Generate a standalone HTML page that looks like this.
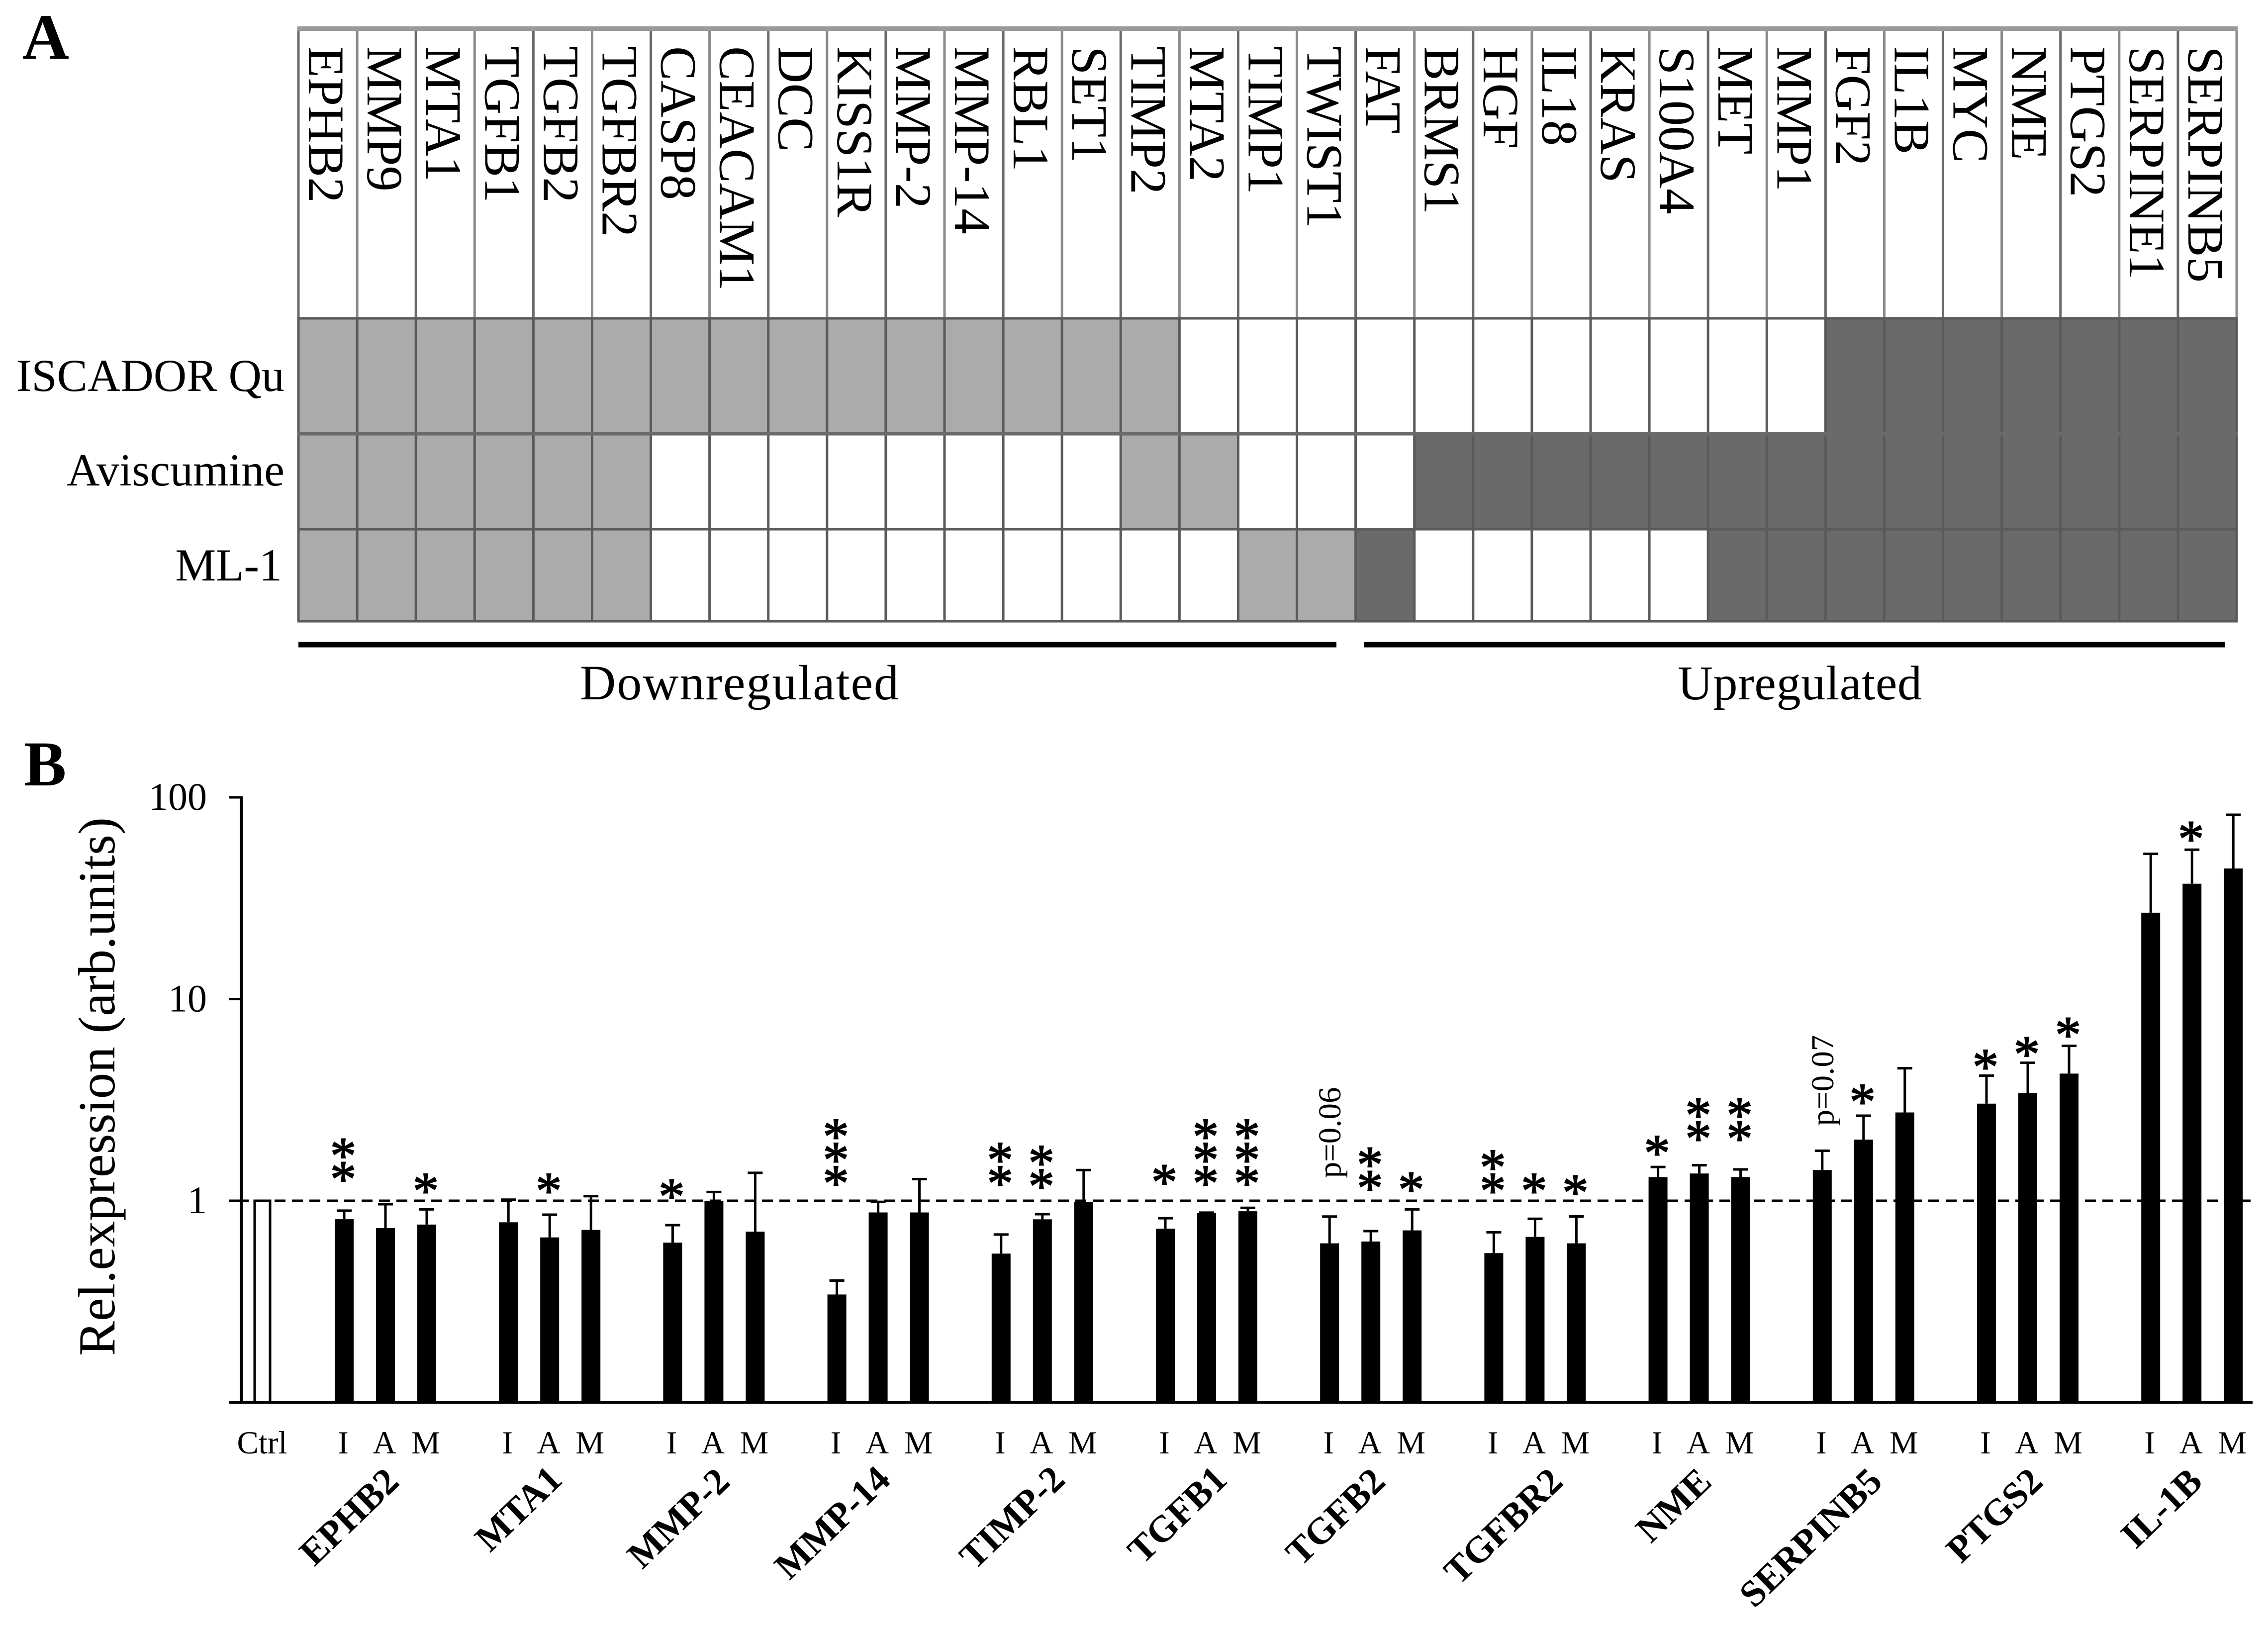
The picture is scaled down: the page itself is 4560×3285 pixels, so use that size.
<!DOCTYPE html>
<html lang="en">
<head>
<meta charset="utf-8">
<title>Gene expression figure</title>
<style>
html,body{margin:0;padding:0;background:#fff}
svg{display:block}
text{font-family:"Liberation Serif",serif;fill:#000}
</style>
</head>
<body>
<svg id="figure" xmlns="http://www.w3.org/2000/svg" width="4560" height="3285" viewBox="0 0 4560 3285">
<rect x="0" y="0" width="4560" height="3285" fill="#fff"/>
<text x="45" y="118" font-size="130" font-weight="bold">A</text>
<text x="48" y="1579" font-size="128" font-weight="bold">B</text>
<g id="heatmap"></g>
<line x1="600" y1="1296" x2="2687" y2="1296" stroke="#000" stroke-width="11"/>
<line x1="2743" y1="1296" x2="4473" y2="1296" stroke="#000" stroke-width="11"/>
<text x="1166" y="1406" font-size="100" textLength="641" lengthAdjust="spacing">Downregulated</text>
<text x="3373" y="1406" font-size="98" textLength="491" lengthAdjust="spacing">Upregulated</text>
<g id="chart"></g>
<g font-size="75" font-weight="bold" text-anchor="end">
<text transform="translate(806 2983) rotate(-44)">EPHB2</text>
<text transform="translate(1134 2979) rotate(-44)">MTA1</text>
<text transform="translate(1471 2983) rotate(-44)">MMP-2</text>
<text transform="translate(1794 2979) rotate(-44)">MMP-14</text>
<text transform="translate(2145 2979) rotate(-44)">TIMP-2</text>
<text transform="translate(2471 2979) rotate(-44)">TGFB1</text>
<text transform="translate(2789 2983) rotate(-44)">TGFB2</text>
<text transform="translate(3146 2983) rotate(-44)">TGFBR2</text>
<text transform="translate(3445 2983) rotate(-44)">NME</text>
<text transform="translate(3788 2983) rotate(-44)">SERPINB5</text>
<text transform="translate(4111 2983) rotate(-44)">PTGS2</text>
<text transform="translate(4432 2983) rotate(-44)">IL-1B</text>
</g>
<text transform="translate(230 2726) rotate(-90)" font-size="105" textLength="1083" lengthAdjust="spacing">Rel.expression (arb.units)</text>
</svg>
<script>
/* ---------- Panel A data ---------- */
const heatGenes = ["EPHB2","MMP9","MTA1","TGFB1","TGFB2","TGFBR2","CASP8","CEACAM1","DCC","KISS1R","MMP-2","MMP-14","RBL1","SET1","TIMP2","MTA2","TIMP1","TWIST1","FAT","BRMS1","HGF","IL18","KRAS","S100A4","MET","MMP1","FGF2","IL1B","MYC","NME","PTGS2","SERPINE1","SERPINB5"];
const heatRows = ["ISCADOR Qu","Aviscumine","ML-1"];
/* -1 down, 0 unchanged, 1 up */
const heatIscador = [-1,-1,-1,-1,-1,-1,-1,-1,-1,-1,-1,-1,-1,-1,-1,0,0,0,0,0,0,0,0,0,0,0,1,1,1,1,1,1,1];
const heatAviscumine = [-1,-1,-1,-1,-1,-1,0,0,0,0,0,0,0,0,-1,-1,0,0,0,1,1,1,1,1,1,1,1,1,1,1,1,1,1];
const heatMl1 = [-1,-1,-1,-1,-1,-1,0,0,0,0,0,0,0,0,0,0,-1,-1,1,0,0,0,0,0,1,1,1,1,1,1,1,1,1];

/* ---------- Panel B data ---------- */
const genes = ["EPHB2","MTA1","MMP-2","MMP-14","TIMP-2","TGFB1","TGFB2","TGFBR2","NME","SERPINB5","PTGS2","IL-1B"];
const treatments = ["I","A","M"];
const yTickLabels = ["100","10","1"];
const yTickValues = [100,10,1];
const controlValue = 1;
const meanI = [0.81,0.782,0.62,0.343,0.547,0.727,0.615,0.55,1.31,1.42,3.03,26.8];
const meanA = [0.732,0.658,1.0,0.875,0.809,0.869,0.628,0.662,1.365,2.01,3.42,37.3];
const meanM = [0.762,0.717,0.703,0.875,0.987,0.887,0.713,0.615,1.31,2.74,4.27,44.4];
const upperI = [0.893,1.013,0.757,0.402,0.68,0.819,0.835,0.698,1.47,1.77,4.17,52.5];
const upperA = [0.961,0.853,1.105,0.987,0.858,0.873,0.707,0.814,1.5,2.64,4.83,55];
const upperM = [0.906,1.054,1.375,1.28,1.42,0.922,0.906,0.836,1.43,4.54,5.86,82];
const starsI = [2,0,1,3,2,1,0,2,1,0,1,0];
const starsA = [0,1,0,0,2,3,2,1,2,1,1,1];
const starsM = [1,0,0,0,0,3,1,1,2,0,1,0];
/* level (in expression units) of the lowest asterisk */
const starLevelI = [1.385,0,1.135,1.322,1.322,1.339,0,1.212,1.867,0,4.99,0];
const starLevelA = [0,1.212,0,0,1.278,1.322,1.253,1.212,2.204,3.35,5.77,67.4];
const starLevelM = [1.212,0,0,0,0,1.322,1.229,1.188,2.204,0,7.19,0];
const pNotes = ["p=0.06","p=0.07"];
const pNoteGenes = ["TGFB2","SERPINB5"];
const pNoteLevels = [1.296,2.35];

const NS = "http://www.w3.org/2000/svg";
function make(tag, parent, props){
  const el = document.createElementNS(NS, tag);
  for (const k in props) el.setAttribute(k, props[k]);
  parent.appendChild(el);
  return el;
}

/* ---------- Panel A drawing ---------- */
const heatG = document.getElementById("heatmap");
const heatValues = [heatIscador, heatAviscumine, heatMl1];
const heatLeft = 600, heatRight = 4497, heatTop = 57;
const rowEdges = [640, 872, 1064, 1249];
const rowBaselines = [786, 976, 1167];
const rowLabelRight = [572, 572, 567];
const colW = (heatRight - heatLeft) / heatGenes.length;
const heatColor = v => v < 0 ? "#ababab" : v > 0 ? "#6a6a6a" : "#ffffff";

heatValues.forEach((vals, r) => {
  vals.forEach((v, c) => {
    const cell = make("rect", heatG, {x: heatLeft + c*colW, y: rowEdges[r], width: colW + 0.5, height: rowEdges[r+1]-rowEdges[r], fill: heatColor(v)});
    
    
  });
  const lab = make("text", heatG, {x: rowLabelRight[r], y: rowBaselines[r], "font-size": 92, "text-anchor": "end"});
  lab.textContent = heatRows[r];
  
  
});
heatGenes.forEach((g, c) => {
  const bx = heatLeft + c*colW + 21;
  const t = make("text", heatG, {x: bx, y: 93, "font-size": 103, transform: "rotate(90 " + bx + " 93)"});
  t.textContent = g;
  
  
});
for (let c = 0; c <= heatGenes.length; c++) {
  const x = heatLeft + c*colW;
  const ln = make("line", heatG, {x1: x, y1: heatTop, x2: x, y2: rowEdges[0], stroke: c % 2 ? "#8a8a8a" : "#6a6a6a", "stroke-width": 5});
  
  
  const ln2 = make("line", heatG, {x1: x, y1: rowEdges[0], x2: x, y2: rowEdges[3], stroke: "#5a5a5a", "stroke-width": 5});
  
  
}
const topBand = make("rect", heatG, {x: heatLeft - 2, y: heatTop - 4, width: heatRight - heatLeft + 4, height: 9, fill: "#9a9a9a"});


rowEdges.forEach((y, i) => {
  const ln = make("line", heatG, {x1: heatLeft - 2, y1: y, x2: heatRight + 2, y2: y, stroke: i === 1 ? "#6a6a6a" : "#5a5a5a", "stroke-width": i === 1 ? 7 : 5});
  
  
});

/* ---------- Panel B drawing ---------- */
const chart = document.getElementById("chart");
const axisX = 485, plotRight = 4529;
const yOne = 2414, decadePx = 405.5;
const yScale = v => yOne - Math.log10(v) * decadePx;
const yBase = yScale(0.1);
const groupStart = 692, groupStep = 330.2, barStep = 83, barW = 38;
const xScale = (g, t) => groupStart + g*groupStep + t*barStep;

const means = [meanI, meanA, meanM];
const uppers = [upperI, upperA, upperM];
const starCounts = [starsI, starsA, starsM];
const starLevels = [starLevelI, starLevelA, starLevelM];

genes.forEach((gene, g) => {
  treatments.forEach((tr, t) => {
    const cx = xScale(g, t);
    const top = yScale(means[t][g]);
    const up = yScale(uppers[t][g]);
    const bar = make("rect", chart, {x: cx - barW/2, y: top, width: barW, height: yBase - top, fill: "#000"});
    
    
    const stem = make("line", chart, {x1: cx, y1: up, x2: cx, y2: top, stroke: "#000", "stroke-width": 5});
    
    
    const cap = make("line", chart, {x1: cx - 15, y1: up, x2: cx + 15, y2: up, stroke: "#000", "stroke-width": 5});
    
    
    const lab = make("text", chart, {x: cx - 2, y: 2922, "font-size": 65, "text-anchor": "middle"});
    lab.textContent = tr;
    
    
    for (let s = 0; s < starCounts[t][g]; s++) {
      const star = make("text", chart, {x: cx - 2, y: yScale(starLevels[t][g]) - s*47 + 49, "font-size": 105, "text-anchor": "middle", stroke: "#000", "stroke-width": 2});
      star.textContent = "*";
      
      
    }
  });
});

pNotes.forEach((note, i) => {
  const g = genes.indexOf(pNoteGenes[i]);
  const bx = xScale(g, 0) + 22;
  const by = yScale(pNoteLevels[i]);
  const t = make("text", chart, {x: bx, y: by, "font-size": 65, transform: "rotate(-90 " + bx + " " + by + ")"});
  t.textContent = note;
  
  
});

const ctrlBar = make("rect", chart, {x: 512, y: yScale(controlValue), width: 31, height: yBase - yScale(controlValue), fill: "#fff", stroke: "#000", "stroke-width": 5});


const ctrlLabel = make("text", chart, {x: 527, y: 2922, "font-size": 65, "text-anchor": "middle"});
ctrlLabel.textContent = "Ctrl";



const dash = make("line", chart, {x1: 552, y1: yOne, x2: 4525, y2: yOne, stroke: "#000", "stroke-width": 5, "stroke-dasharray": "22 13"});


const yAxis = make("line", chart, {x1: axisX, y1: yScale(100) - 2, x2: axisX, y2: yBase, stroke: "#000", "stroke-width": 6});


const xAxis = make("line", chart, {x1: 461, y1: yBase, x2: plotRight, y2: yBase, stroke: "#000", "stroke-width": 5});



yTickValues.forEach((v, i) => {
  const y = yScale(v);
  const tick = make("line", chart, {x1: 461, y1: y, x2: v === 1 ? 500 : axisX, y2: y, stroke: "#000", "stroke-width": 5});
  
  
  const lab = make("text", chart, {x: 416, y: y + 25, "font-size": 78, "text-anchor": "end"});
  lab.textContent = yTickLabels[i];
  
  
});
</script>
</body>
</html>
